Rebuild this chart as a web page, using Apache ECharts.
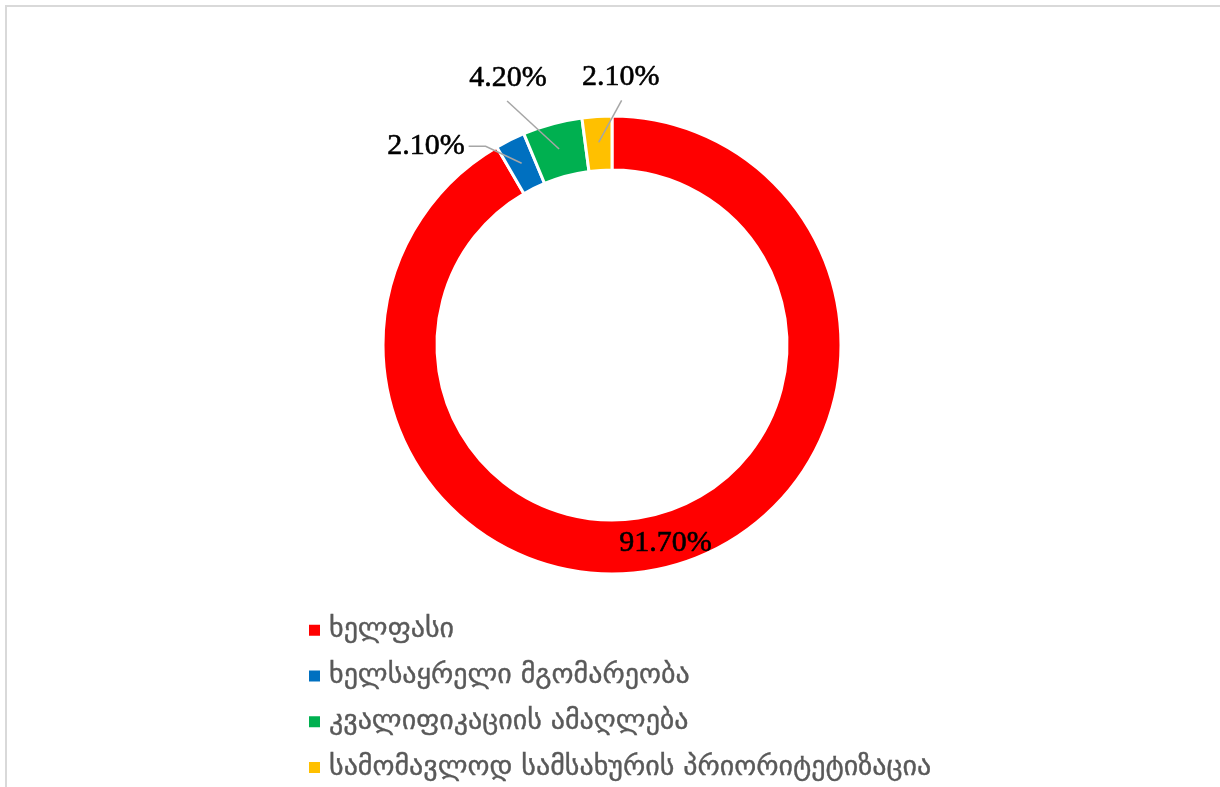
<!DOCTYPE html>
<html>
<head>
<meta charset="utf-8">
<style>
  html, body { margin: 0; padding: 0; background: #ffffff; }
  #chart { width: 1220px; height: 787px; }
</style>
<script src="https://cdn.jsdelivr.net/npm/echarts@6/dist/echarts.min.js"></script>
</head>
<body>
<div id="chart"></div>
<script>
// Categories and their shares (percent)
const categories = [
  'ხელფასი',
  'ხელსაყრელი მგომარეობა',
  'კვალიფიკაციის ამაღლება',
  'სამომავლოდ სამსახურის პრიორიტეტიზაცია'
];
const shares = [91.7, 2.1, 4.2, 2.1];
const sliceColors = ['#FF0000', '#0070C0', '#00B050', '#FFC000'];

// Ring geometry (pixels)
const CX = 612, CY = 345, R_OUT = 229, R_IN = 175;
const R_MID = (R_OUT + R_IN) / 2 + 1;

// Leader-line styling for the small outside labels, relative to the
// slice's mid-ring point: bend point, end point, label anchor.
const leaderStyle = {
  1: { bend: [-36, -17], end: [-53, -17], label: [-57, -17], align: 'right' },
  2: { bend: [-52, -48], end: [-52, -48], label: [-51, -71], align: 'center' },
  3: { bend: [23, -42], end: [23, -42], label: [22, -65], align: 'center' }
};

const total = shares.reduce((a, b) => a + b, 0);
function midRingPoint(i) {
  let before = 0;
  for (let k = 0; k < i; k++) before += shares[k];
  const frac = (before + shares[i] / 2) / total;
  const ang = frac * Math.PI * 2; // clockwise from top
  return [CX + R_MID * Math.sin(ang), CY - R_MID * Math.cos(ang)];
}

// Leader lines drawn from the middle of each small slice out to its label
const leaderLines = Object.keys(leaderStyle).map((key) => {
  const i = Number(key);
  const s = leaderStyle[i];
  const p0 = midRingPoint(i);
  const add = (d) => [p0[0] + d[0], p0[1] + d[1]];
  return {
    type: 'polyline',
    z: 10,
    silent: true,
    shape: { points: [p0, add(s.bend), add(s.end)] },
    style: { stroke: '#a6a6a6', lineWidth: 1.5, fill: 'none' }
  };
});

const chart = echarts.init(document.getElementById('chart'), null, { renderer: 'canvas' });

const data = categories.map((name, i) => ({
  name: name,
  value: shares[i],
  itemStyle: { color: sliceColors[i] },
  label: i === 0 ? { position: 'inside' } : { position: 'outside' }
}));

chart.setOption({
  backgroundColor: '#ffffff',
  animation: false,
  graphic: [{
    type: 'rect',
    shape: { x: 6, y: 6, width: 1400, height: 1000 },
    style: { fill: 'none', stroke: '#d9d9d9', lineWidth: 2 },
    silent: true
  }].concat(leaderLines),
  legend: {
    orient: 'vertical',
    left: 302,
    top: 611,
    height: 400,
    itemWidth: 13,
    itemHeight: 13,
    itemGap: 17.4,
    icon: 'rect',
    data: categories,
    textStyle: {
      fontFamily: 'DejaVu Sans',
      fontSize: 28,
      lineHeight: 24,
      color: '#595959',
      textBorderColor: '#595959',
      textBorderWidth: 0.4,
      padding: [0, 0, 0, 3]
    }
  },
  series: [{
    type: 'pie',
    center: [CX, CY],
    radius: [R_IN, R_OUT],
    startAngle: 90,
    clockwise: true,
    avoidLabelOverlap: false,
    itemStyle: { borderColor: '#ffffff', borderWidth: 3 },
    label: {
      show: true,
      formatter: (p) => p.value.toFixed(2) + '%',
      fontFamily: 'Liberation Serif',
      fontSize: 30,
      color: '#000000',
      textBorderColor: '#000000',
      textBorderWidth: 0.6
    },
    labelLine: { show: false },
    labelLayout: function (params) {
      const i = params.dataIndex;
      const s = leaderStyle[i];
      if (!s) return {};
      const p0 = midRingPoint(i);
      return {
        x: p0[0] + s.label[0],
        y: p0[1] + s.label[1],
        align: s.align,
        verticalAlign: 'middle'
      };
    },
    data: data
  }]
});
</script>
</body>
</html>
